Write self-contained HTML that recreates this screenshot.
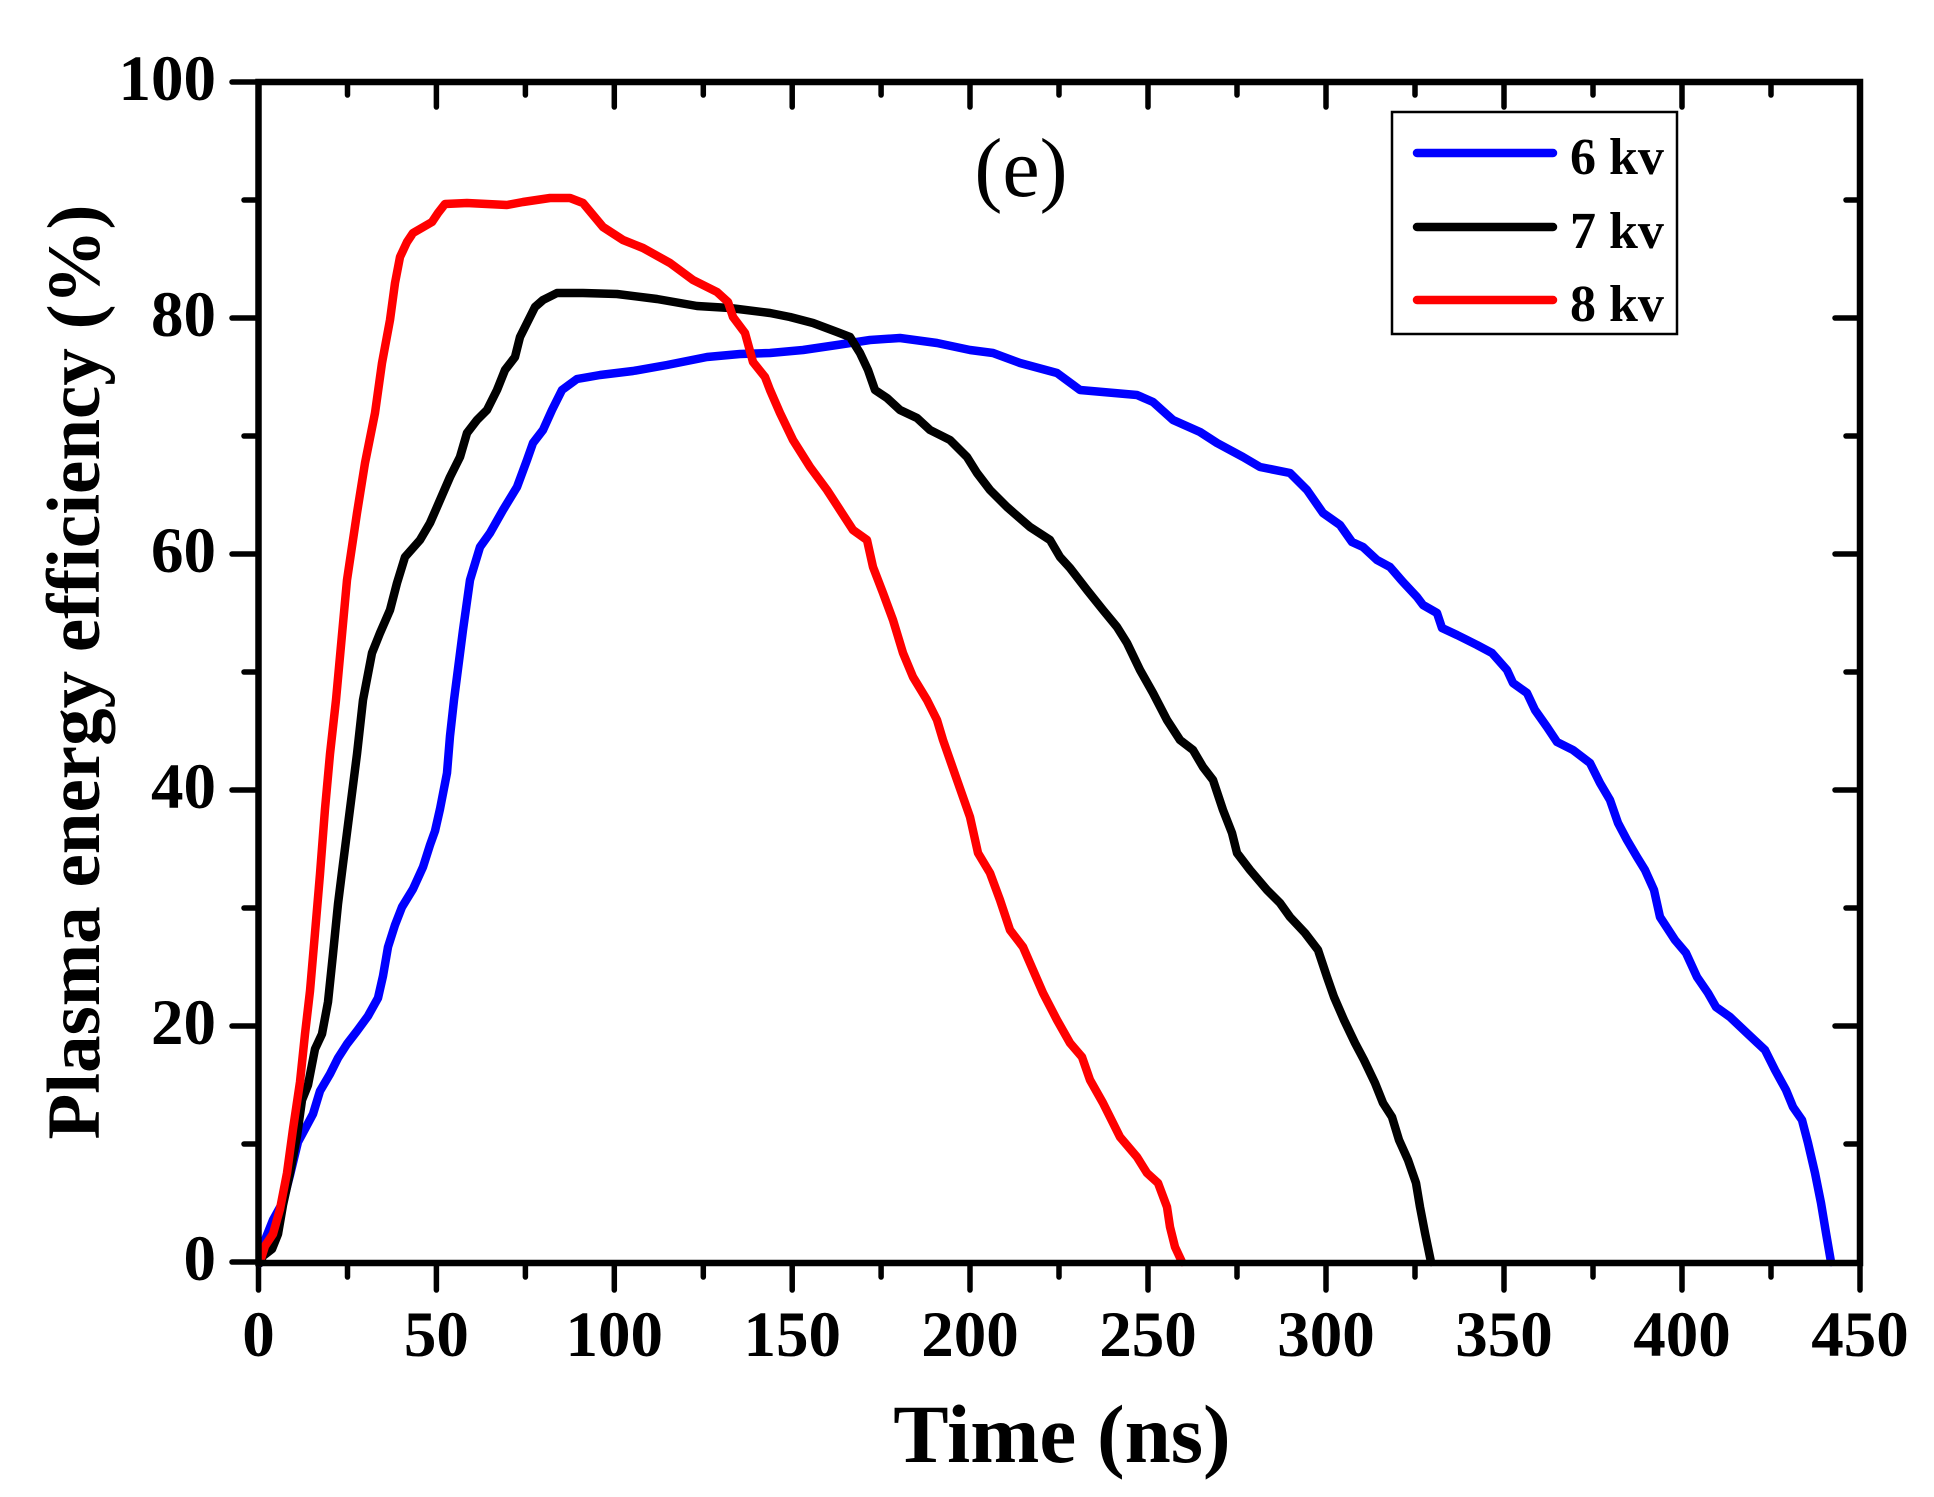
<!DOCTYPE html>
<html>
<head>
<meta charset="utf-8">
<style>
html,body{margin:0;padding:0;background:#fff;}
svg{display:block;}
text{font-family:"Liberation Serif","Times New Roman",serif;}
</style>
</head>
<body>
<svg width="1934" height="1497" viewBox="0 0 1934 1497" xmlns="http://www.w3.org/2000/svg">
<rect x="0" y="0" width="1934" height="1497" fill="#fff"/>

<!-- ticks -->
<g stroke="#000" stroke-width="5.5" stroke-linecap="round" fill="none">
  <path d="M258.5 1263V1290 M436.4 1263V1290 M614.3 1263V1290 M792.2 1263V1290 M970 1263V1290 M1148 1263V1290 M1326 1263V1290 M1504 1263V1290 M1682 1263V1290 M1860 1263V1290"/>
  <path d="M347.5 1263V1277 M525.4 1263V1277 M703.3 1263V1277 M881.1 1263V1277 M1059 1263V1277 M1237 1263V1277 M1415 1263V1277 M1593 1263V1277 M1771 1263V1277"/>
  <path d="M436.4 82V107 M614.3 82V107 M792.2 82V107 M970 82V107 M1148 82V107 M1326 82V107 M1504 82V107 M1682 82V107"/>
  <path d="M347.5 82V95 M525.4 82V95 M703.3 82V95 M881.1 82V95 M1059 82V95 M1237 82V95 M1415 82V95 M1593 82V95 M1771 82V95"/>
  <path d="M258 1262H232 M258 1026H232 M258 790H232 M258 554H232 M258 318H232 M258 82H232"/>
  <path d="M258 1144H244 M258 908H244 M258 672H244 M258 436H244 M258 200H244"/>
  <path d="M1860 1026H1835 M1860 790H1835 M1860 554H1835 M1860 318H1835"/>
  <path d="M1860 1144H1846 M1860 908H1846 M1860 672H1846 M1860 436H1846 M1860 200H1846"/>
</g>

<!-- series -->
<g fill="none" stroke-width="8.5" stroke-linejoin="round" stroke-linecap="round">
<path stroke="#0000ff" d="M260 1263 L263 1245 L273 1220 L283 1202 L290 1175 L298 1142 L305 1129 L313 1114 L320 1091 L330 1074 L338 1058 L347 1044 L357 1031 L368 1016 L378 998 L383 976 L388 947 L395 925 L402 907 L413 889 L423 867 L430 845 L435 831 L440 809 L447 773 L450 736 L454 700 L463 630 L470 580 L480 547 L490 533 L503 510 L517 487 L527 460 L533 443 L543 430 L552 410 L562 390 L577 379 L600 375 L633 371 L667 365 L707 357 L740 354 L770 353 L803 350 L837 345 L870 340 L900 338 L937 343 L970 350 L993 353 L1020 363 L1057 373 L1080 390 L1137 395 L1153 402 L1173 420 L1200 432 L1217 443 L1243 457 L1260 467 L1290 473 L1307 490 L1323 513 L1340 525 L1352 542 L1363 547 L1377 560 L1390 567 L1403 582 L1417 597 L1423 605 L1437 613 L1442 628 L1457 635 L1477 645 L1492 653 L1507 670 L1513 683 L1527 693 L1535 710 L1547 727 L1557 742 L1573 750 L1590 763 L1600 783 L1610 800 L1618 823 L1627 840 L1637 857 L1645 870 L1654 890 L1660 917 L1675 940 L1686 953 L1697 977 L1708 993 L1716 1007 L1730 1017 L1749 1035 L1765 1050 L1775 1070 L1786 1090 L1793 1107 L1802 1120 L1808 1143 L1815 1173 L1821 1203 L1826 1233 L1831 1262"/>
<path stroke="#000000" d="M260 1263 L263 1256 L272 1249 L278 1234 L283 1205 L290 1173 L297 1136 L302 1100 L308 1085 L315 1049 L322 1034 L328 1002 L333 954 L338 904 L343 864 L350 809 L357 754 L363 700 L372 653 L380 633 L390 610 L397 583 L405 557 L420 540 L430 523 L437 507 L450 477 L460 457 L467 433 L477 420 L487 410 L497 390 L505 370 L515 357 L520 337 L527 323 L535 307 L543 300 L557 293 L583 293 L617 294 L657 299 L697 306 L730 308 L770 313 L790 317 L813 323 L837 332 L850 337 L860 353 L868 370 L875 390 L887 398 L900 410 L917 418 L930 430 L950 440 L967 457 L977 473 L990 490 L1007 507 L1030 527 L1050 540 L1060 557 L1070 568 L1087 590 L1103 610 L1117 627 L1127 643 L1140 670 L1153 693 L1167 720 L1180 740 L1193 750 L1203 767 L1213 780 L1223 810 L1232 833 L1237 853 L1250 870 L1267 890 L1280 903 L1290 917 L1305 933 L1318 950 L1327 977 L1334 997 L1344 1020 L1355 1043 L1364 1060 L1375 1083 L1383 1103 L1392 1117 L1399 1140 L1408 1160 L1416 1183 L1420 1207 L1425 1233 L1431 1262"/>
<path stroke="#ff0000" d="M260 1262 L265 1246 L273 1234 L280 1209 L287 1173 L293 1129 L300 1082 L305 1034 L310 991 L315 933 L320 874 L325 809 L330 754 L336 700 L347 580 L357 513 L365 463 L375 413 L382 363 L390 320 L395 283 L400 257 L407 242 L413 233 L432 222 L438 213 L445 204 L467 203 L507 205 L523 202 L550 198 L570 198 L583 203 L603 227 L623 240 L643 248 L670 263 L693 280 L717 292 L728 302 L733 317 L745 333 L753 362 L765 377 L770 390 L780 413 L793 440 L810 467 L827 490 L840 510 L853 530 L867 540 L873 567 L883 593 L893 620 L903 653 L913 677 L927 700 L937 720 L943 740 L950 760 L957 780 L970 817 L978 853 L990 873 L1000 900 L1010 930 L1023 947 L1033 970 L1043 993 L1057 1020 L1070 1043 L1082 1057 L1090 1080 L1103 1103 L1120 1137 L1137 1157 L1147 1173 L1158 1183 L1167 1207 L1170 1227 L1175 1247 L1182 1262"/>
</g>

<!-- axes frame -->
<rect x="258.5" y="82" width="1601.5" height="1181" fill="none" stroke="#000" stroke-width="6.5"/>

<!-- y tick labels -->
<g font-size="65" font-weight="bold" text-anchor="end" fill="#000">
  <text x="216" y="1280">0</text>
  <text x="216" y="1044">20</text>
  <text x="216" y="808">40</text>
  <text x="216" y="572">60</text>
  <text x="216" y="336">80</text>
  <text x="216" y="100">100</text>
</g>

<!-- x tick labels -->
<g font-size="65" font-weight="bold" text-anchor="middle" fill="#000">
  <text x="258.5" y="1356">0</text>
  <text x="436.4" y="1356">50</text>
  <text x="614.3" y="1356">100</text>
  <text x="792.2" y="1356">150</text>
  <text x="970" y="1356">200</text>
  <text x="1148" y="1356">250</text>
  <text x="1326" y="1356">300</text>
  <text x="1504" y="1356">350</text>
  <text x="1682" y="1356">400</text>
  <text x="1860" y="1356">450</text>
</g>

<!-- axis titles -->
<text x="1062" y="1462" font-size="83" font-weight="bold" text-anchor="middle" fill="#000">Time (ns)</text>
<text transform="translate(99,672) rotate(-90)" x="0" y="0" font-size="75" font-weight="bold" text-anchor="middle" fill="#000">Plasma energy efficiency (%)</text>

<!-- panel label -->
<text x="1021" y="196" font-size="84" text-anchor="middle" fill="#000">(e)</text>

<!-- legend -->
<rect x="1392" y="112" width="285" height="222" fill="#fff" stroke="#000" stroke-width="2.5"/>
<g stroke-width="8.5" stroke-linecap="round">
  <line x1="1417" y1="153" x2="1553" y2="153" stroke="#0000ff"/>
  <line x1="1417" y1="227" x2="1553" y2="227" stroke="#000000"/>
  <line x1="1417" y1="300" x2="1553" y2="300" stroke="#ff0000"/>
</g>
<g font-size="52" font-weight="bold" fill="#000">
  <text x="1570" y="174">6 kv</text>
  <text x="1570" y="248">7 kv</text>
  <text x="1570" y="321">8 kv</text>
</g>
</svg>
</body>
</html>
